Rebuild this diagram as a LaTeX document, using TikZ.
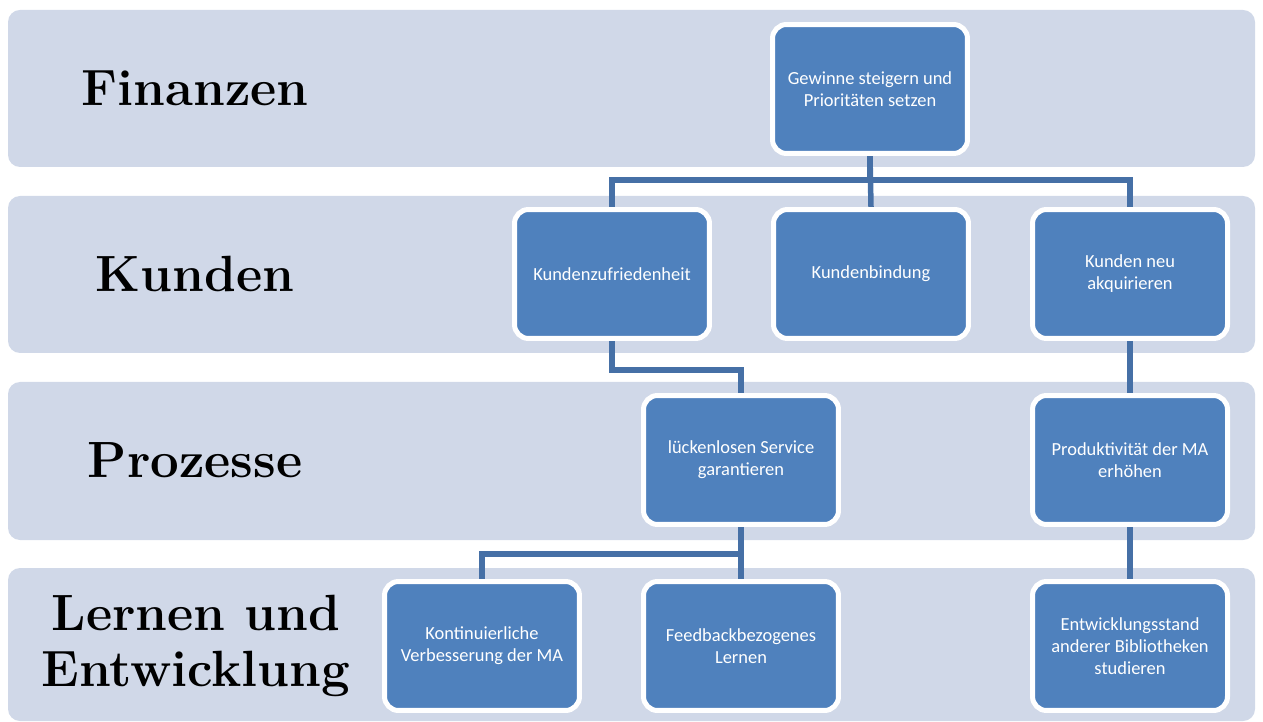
\documentclass[tikz,border=0pt]{standalone}
\usepackage{fontspec}
\usetikzlibrary{backgrounds}
\newfontfamily\boxfont{Carlito}
\definecolor{band1}{RGB}{208, 216, 232}
\definecolor{blue1}{RGB}{79, 129, 189}
\definecolor{line1}{RGB}{70, 112, 166}

\begin{document}
\begin{tikzpicture}[x=0.02cm, y=-0.02cm,
  band/.style={fill=band1, rounded corners=0.24cm},
  box/.style={rectangle, rounded corners=0.28cm, fill=blue1, draw=white, line width=0.1cm,
    minimum width=3.9cm, minimum height=2.58cm, align=center, text=white,
    font=\boxfont\fontsize{10.5}{12.5}\selectfont},
  lbl/.style={align=center, font=\fontsize{29}{32}\selectfont\bfseries},
  conn/.style={draw=line1, line width=0.11cm}]
  \useasboundingbox (0,0) rectangle (1263,722);

  \node[lbl] (finanzen) at (195,88) {Finanzen};
  \node[lbl] (kunden) at (195,274) {Kunden};
  \node[lbl] (prozesse) at (195,460) {Prozesse};
  \node[lbl] (lernen) at (196,646) {Lernen und\\Entwicklung};

  \node[box] (fin) at (870,89) {Gewinne steigern und\\Prioritäten setzen};
  \node[box] (k1) at (612,274) {Kundenzufriedenheit};
  \node[box] (k2) at (871,274) {Kundenbindung};
  \node[box] (k3) at (1130,274) {Kunden neu\\akquirieren};
  \node[box] (p1) at (741,460) {lückenlosen Service\\garantieren};
  \node[box] (p2) at (1130,460) {Produktivität der MA\\erhöhen};
  \node[box] (l1) at (482,646) {Kontinuierliche\\Verbesserung der MA};
  \node[box] (l2) at (741,646) {Feedbackbezogenes\\Lernen};
  \node[box] (l3) at (1130,646) {Entwicklungsstand\\anderer Bibliotheken\\studieren};

  \begin{scope}[on background layer]
    \fill[band] (8,10) rectangle (1255,167);
    \fill[band] (8,196) rectangle (1255,353);
    \fill[band] (8,382) rectangle (1255,540);
    \fill[band] (8,568) rectangle (1255,721);

    \draw[conn] (fin.south) -- ++(0,24) -| (k1.north);
    \draw[conn] (fin.south) -- ++(0,24) -| (k3.north);
    \draw[conn] (fin.south) -- (k2.north);
    \draw[conn] (k1.south) -- ++(0,29) -| (p1.north);
    \draw[conn] (k3.south) -- (p2.north);
    \draw[conn] (p1.south) -- ++(0,27) -| (l1.north);
    \draw[conn] (p1.south) -- (l2.north);
    \draw[conn] (p2.south) -- (l3.north);
  \end{scope}
\end{tikzpicture}
\end{document}
